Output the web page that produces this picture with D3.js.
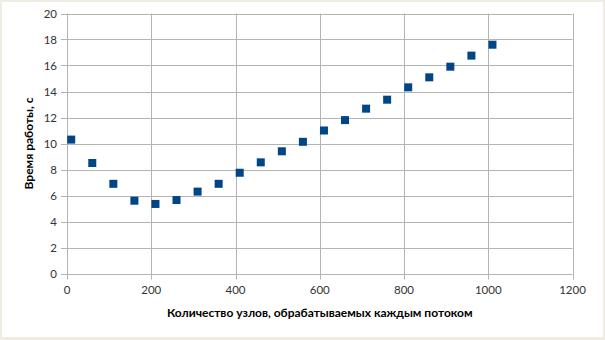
<!DOCTYPE html>
<html><head><meta charset="utf-8">
<script src="https://cdn.jsdelivr.net/npm/d3@7"></script>
<style>body{margin:0;background:#efece3;}svg{display:block;}</style>
</head><body>
<script>
const nodes = [10,60,110,160,210,260,310,360,410,460,510,560,610,660,710,760,810,860,910,960,1010];
const times = [10.3,8.5,6.9,5.6,5.35,5.65,6.3,6.9,7.75,8.55,9.4,10.13,11.0,11.8,12.68,13.37,14.32,15.09,15.91,16.76,17.6];
const xTicks = [0,200,400,600,800,1000,1200];
const yTicks = [0,2,4,6,8,10,12,14,16,18,20];
const xTitle = "Количество узлов, обрабатываемых каждым потоком";
const yTitle = "Время работы, с";

const W=605,H=340;
const svg=d3.select("body").append("svg").attr("width",W).attr("height",H);
svg.append("rect").attr("width",W).attr("height",H).attr("fill","#efece3");
svg.append("rect").attr("x",2).attr("y",2).attr("width",601).attr("height",335).attr("fill","#ffffff");

const L=67,R=572.5,T=13.5,B=273.5;
const x=d3.scaleLinear().domain([0,1200]).range([L,R]);
const y=d3.scaleLinear().domain([0,20]).range([B,T]);
const font="Lato, 'Open Sans', sans-serif";
const grid="#b3b3b3";

const g=svg.append("g");
// grid
g.selectAll(".hg").data(yTicks).join("line")
 .attr("x1",L-6).attr("x2",R).attr("y1",d=>Math.round(y(d))+0.5).attr("y2",d=>Math.round(y(d))+0.5)
 .attr("stroke",grid).attr("stroke-width",1);
g.selectAll(".vg").data(xTicks).join("line")
 .attr("y1",T).attr("y2",B+6).attr("x1",d=>Math.round(x(d))+0.5).attr("x2",d=>Math.round(x(d))+0.5)
 .attr("stroke",grid).attr("stroke-width",1);

// tick labels
g.selectAll(".yl").data(yTicks).join("text")
 .attr("x",L-10).attr("y",d=>y(d)).attr("dy","0.35em").attr("text-anchor","end")
 .attr("font-family",font).attr("font-size",11.5).attr("fill","#333").text(d=>d);
g.selectAll(".xl").data(xTicks).join("text")
 .attr("x",d=>x(d)).attr("y",B+16).attr("dy","0.35em").attr("text-anchor","middle")
 .attr("font-family",font).attr("font-size",11.5).attr("fill","#333").text(d=>d);

// titles
svg.append("text").attr("x",(L+R)/2).attr("y",313).attr("dy","0.35em").attr("text-anchor","middle")
 .attr("font-family",font).attr("font-size",12).attr("font-weight","bold").attr("fill","#000").text(xTitle);
svg.append("text").attr("transform",`translate(29,${(T+B)/2}) rotate(-90)`).attr("dy","0.35em").attr("text-anchor","middle")
 .attr("font-family",font).attr("font-size",12).attr("font-weight","bold").attr("fill","#000").text(yTitle);

// points
const s=8;
g.selectAll(".pt").data(nodes.map((n,i)=>[n,times[i]])).join("rect")
 .attr("x",d=>x(d[0])-s/2).attr("y",d=>y(d[1])-s/2).attr("width",s).attr("height",s)
 .attr("fill","#004586");
</script>
</body></html>
